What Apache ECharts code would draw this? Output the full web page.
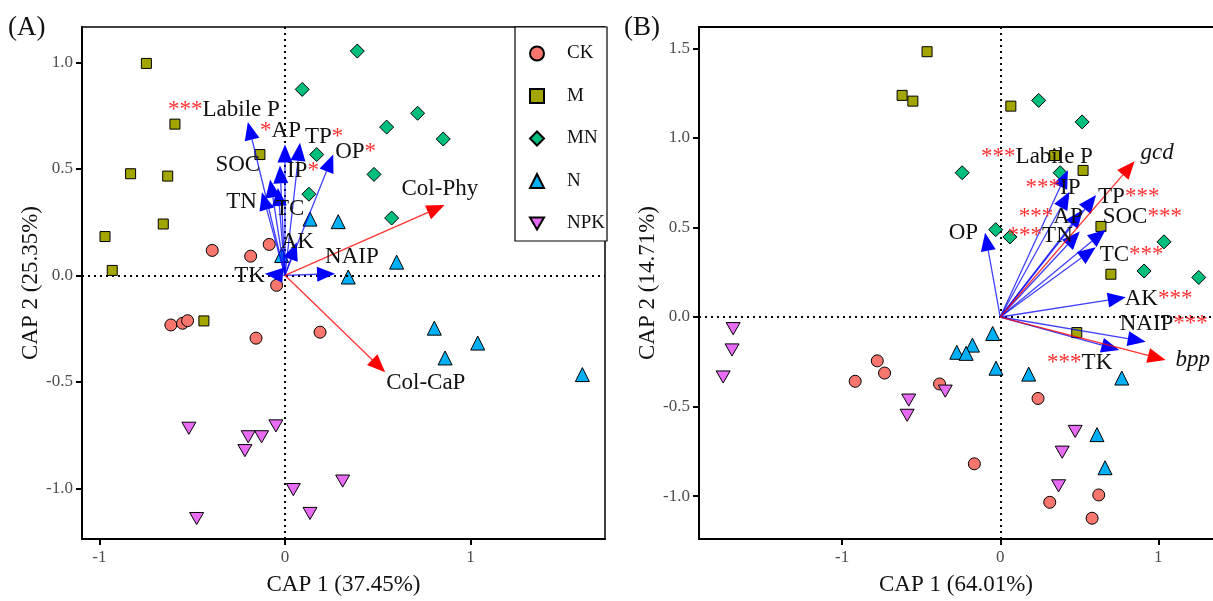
<!DOCTYPE html>
<html>
<head>
<meta charset="utf-8">
<script src="https://cdn.jsdelivr.net/npm/echarts@6/dist/echarts.min.js"></script>
<style>
  html, body { margin: 0; padding: 0; background: #fff; }
  #chart { width: 1213px; height: 601px; }
</style>
</head>
<body>
<div id="chart"></div>
<script>
// ---- sample scores, panel A ----
const ckA = [[-0.392, 0.117], [-0.185, 0.090], [-0.085, 0.145], [-0.045, -0.047], [-0.615, -0.233], [-0.552, -0.225], [-0.525, -0.213], [-0.156, -0.295], [0.189, -0.267]];
const mA = [[-0.747, 0.995], [-0.593, 0.71], [-0.135, 0.567], [-0.832, 0.477], [-0.632, 0.466], [-0.656, 0.241], [-0.970, 0.182], [-0.931, 0.023], [-0.437, -0.214]];
const mnA = [[0.390, 1.053], [0.093, 0.873], [0.715, 0.761], [0.548, 0.696], [0.853, 0.640], [0.171, 0.567], [0.480, 0.474], [0.129, 0.381], [0.575, 0.269]];
const nA = [[0.135, 0.264], [0.287, 0.252], [0.602, 0.062], [0.341, -0.008], [-0.018, 0.093], [0.805, -0.248], [1.039, -0.318], [0.863, -0.388], [1.603, -0.466]];
const npkA = [[-0.518, -0.718], [-0.198, -0.758], [-0.126, -0.758], [-0.216, -0.823], [-0.049, -0.707], [0.045, -1.006], [-0.476, -1.142], [0.311, -0.966], [0.135, -1.118]];

// ---- sample scores, panel B ----
const ckB = [[-0.918, -0.359], [-0.778, -0.245], [-0.732, -0.313], [-0.384, -0.374], [0.239, -0.455], [-0.164, -0.82], [0.623, -0.994], [0.313, -1.035], [0.581, -1.124]];
const mB = [[-0.463, 1.482], [-0.621, 1.238], [-0.553, 1.206], [0.067, 1.178], [0.344, 0.902], [0.524, 0.819], [0.637, 0.506], [0.70, 0.239], [0.484, -0.087]];
const mnB = [[0.243, 1.21], [0.518, 1.09], [-0.241, 0.806], [0.379, 0.806], [-0.029, 0.488], [0.061, 0.447], [1.036, 0.42], [0.91, 0.257], [1.256, 0.221]];
const nB = [[-0.048, -0.092], [-0.176, -0.157], [-0.275, -0.197], [-0.216, -0.203], [-0.027, -0.286], [0.180, -0.319], [0.769, -0.341], [0.612, -0.657], [0.663, -0.842]];
const npkB = [[-1.69, -0.065], [-1.697, -0.184], [-1.753, -0.335], [-0.348, -0.414], [-0.579, -0.464], [-0.589, -0.549], [0.474, -0.639], [0.392, -0.755], [0.369, -0.943]];

// ---- biplot vectors ----
const envNamesA = ['Labile P', 'AP', 'TP', 'OP', 'IP', 'SOC', 'TN', 'TC', 'AK', 'NAIP', 'TK'];
const envXA = [-0.20, 0.0, 0.081, 0.26, -0.027, -0.08, -0.124, -0.038, 0.063, 0.27, -0.108];
const envYA = [0.72, 0.614, 0.622, 0.567, 0.516, 0.45, 0.39, 0.41, 0.155, 0.008, 0.008];
const envSigA = ['***', '*', '*', '*', '*', '', '', '', '', '', ''];
const colNamesA = ['Col-Phy', 'Col-CaP'];
const colXA = [0.86, 0.54];
const colYA = [0.33, -0.455];

const envNamesB = ['Labile P', 'IP', 'TP', 'AP', 'SOC', 'TN', 'TC', 'OP', 'AK', 'NAIP', 'TK'];
const envXB = [0.428, 0.438, 0.606, 0.522, 0.667, 0.503, 0.604, -0.096, 0.794, 0.92, 0.753];
const envYB = [0.82, 0.70, 0.681, 0.598, 0.488, 0.477, 0.389, 0.47, 0.11, -0.138, -0.184];
const envSigB = ['***', '***', '***', '***', '***', '***', '***', '', '***', '***', '***'];
const enzNamesB = ['gcd', 'bpp'];
const enzXB = [0.85, 1.046];
const enzYB = [0.87, -0.24];

const groups = ['CK', 'M', 'MN', 'N', 'NPK'];
const yTicks = [-1.0, -0.5, 0.0, 0.5, 1.0];
const yTicksB = [-1.0, -0.5, 0.0, 0.5, 1.0, 1.5];
const xTicks = [-1, 0, 1];

// label placement relative to arrow tip (pixels): [dx, dy, align]
const labelPosA = {
  'Labile P': [32, -12, 'right'], 'AP': [16, -14, 'right'], 'TP': [5, -6, 'left'],
  'OP': [2, -3, 'left'], 'IP': [7, 6, 'left'], 'SOC': [-10, -15, 'right'],
  'TN': [-5, 10, 'right'], 'TC': [-3, 21, 'left'], 'AK': [-16, 0, 'left'],
  'NAIP': [-10, -17, 'left'], 'TK': [0, 2, 'right'],
  'Col-Phy': [-43, -16, 'left'], 'Col-CaP': [1, 11, 'left']
};
const labelPosB = {
  'Labile P': [25, -13, 'right'], 'IP': [11, -4, 'right'], 'TP': [2, 2, 'left'],
  'AP': [0, 7, 'right'], 'SOC': [-3, -13, 'left'], 'TN': [-7, 4, 'right'],
  'TC': [4, 8, 'left'], 'OP': [-7, 0, 'right'], 'AK': [-1, 2, 'left'],
  'NAIP': [-26, -18, 'left'], 'TK': [-7, 13, 'right'],
  'gcd': [6, -8, 'left'], 'bpp': [10, 0, 'left']
};

const colors = ['#F8766D', '#A3A500', '#00BF7D', '#00B0F6', '#E76BF3'];
const symbols = ['circle', 'rect', 'diamond', 'triangle', 'path://M0,0L10,0L5,8.66Z'];
const sizes = [12, 10, 14, 14, 14];
const serif = '"Liberation Serif", "DejaVu Serif", serif';

const chart = echarts.init(document.getElementById('chart'));

function arrowSeries(gi, names, xs, ys, color, lineColor) {
  return {
    type: 'custom',
    xAxisIndex: gi, yAxisIndex: gi,
    z: 5,
    silent: true,
    data: names.map((n, i) => [xs[i], ys[i], i]),
    renderItem: (params, api) => {
      const p0 = api.coord([0, 0]);
      const p1 = api.coord([api.value(0), api.value(1)]);
      const dx = p1[0] - p0[0], dy = p1[1] - p0[1];
      const len = Math.sqrt(dx * dx + dy * dy) || 1;
      const ux = dx / len, uy = dy / len;
      const L = 18, W = 7.5;
      const bx = p1[0] - ux * L, by = p1[1] - uy * L;
      return {
        type: 'group',
        children: [
          { type: 'line', shape: { x1: p0[0], y1: p0[1], x2: bx, y2: by },
            style: { stroke: lineColor, lineWidth: 1.3 } },
          { type: 'polygon',
            shape: { points: [[p1[0], p1[1]], [bx - uy * W, by + ux * W], [bx + uy * W, by - ux * W]] },
            style: { fill: color } }
        ]
      };
    }
  };
}

function labelSeries(gi, names, xs, ys, sigs, pos, italic) {
  return {
    type: 'custom',
    xAxisIndex: gi, yAxisIndex: gi,
    z: 10,
    silent: true,
    data: names.map((n, i) => [xs[i], ys[i], i]),
    renderItem: (params, api) => {
      const i = params.dataIndex;
      const name = names[i];
      const sig = sigs ? sigs[i] : '';
      const p = pos[name];
      const tip = api.coord([api.value(0), api.value(1)]);
      let text = name;
      if (sig) text = p[2] === 'right' ? '{s|' + sig + '}' + name : name + '{s|' + sig + '}';
      return {
        type: 'text',
        x: tip[0] + p[0], y: tip[1] + p[1],
        style: {
          text: text,
          align: p[2], verticalAlign: 'middle',
          fontFamily: serif, fontSize: 23,
          fontStyle: italic ? 'italic' : 'normal',
          fill: '#111',
          rich: { s: { fill: '#ff3030', fontFamily: serif, fontSize: 23 } }
        }
      };
    }
  };
}

function pointSeries(gi, data, k) {
  return {
    name: groups[k],
    type: 'scatter',
    xAxisIndex: gi, yAxisIndex: gi,
    z: 3,
    symbol: symbols[k],
    symbolSize: sizes[k],
    symbolKeepAspect: true,
    itemStyle: { color: colors[k], borderColor: '#000', borderWidth: 1, opacity: 1 },
    data: data
  };
}

function zeroLines(gi) {
  return {
    type: 'scatter', xAxisIndex: gi, yAxisIndex: gi, data: [], z: 2,
    markLine: {
      silent: true, symbol: 'none', label: { show: false },
      lineStyle: { color: '#000', type: [2, 4], width: 2 },
      data: [{ xAxis: 0 }, { yAxis: 0 }]
    }
  };
}

function xAxis(gi, min, max, name) {
  return {
    gridIndex: gi, type: 'value', min: min, max: max,
    name: name, nameLocation: 'middle', nameGap: 34,
    nameTextStyle: { fontFamily: serif, fontSize: 23, color: '#111' },
    splitLine: { show: false },
    axisLine: { onZero: false, lineStyle: { color: '#000', width: 2 } },
    axisTick: { customValues: xTicks, length: 6, lineStyle: { color: '#000', width: 2 } },
    axisLabel: { customValues: xTicks, margin: 10, fontFamily: serif, fontSize: 17, color: '#4d4d4d',
      formatter: v => String(Math.round(v)) }
  };
}

function yAxis(gi, min, max, name, ticks) {
  return {
    gridIndex: gi, type: 'value', min: min, max: max,
    name: name, nameLocation: 'middle', nameGap: 36,
    nameTextStyle: { fontFamily: serif, fontSize: 23, color: '#111' },
    splitLine: { show: false },
    axisLine: { onZero: false, lineStyle: { color: '#000', width: 2 } },
    axisTick: { customValues: ticks, length: 6, lineStyle: { color: '#000', width: 2 } },
    axisLabel: { customValues: ticks, margin: 9, fontFamily: serif, fontSize: 17, color: '#4d4d4d',
      formatter: v => v.toFixed(1) }
  };
}

// top frame line of panel B (its right edge runs off the page)
const topFrameB = {
  gridIndex: 1, type: 'value', position: 'top', min: -1.906, max: 1.346,
  axisLine: { onZero: false, lineStyle: { color: '#000', width: 2 } },
  axisTick: { show: false }, axisLabel: { show: false }, splitLine: { show: false }
};

const option = {
  backgroundColor: '#fff',
  animation: false,
  graphic: [
    { type: 'text', left: 8, top: 14, style: { text: '(A)', fontFamily: serif, fontSize: 27, fill: '#111' } },
    { type: 'text', left: 624, top: 14, style: { text: '(B)', fontFamily: serif, fontSize: 27, fill: '#111' } }
  ],
  legend: {
    data: groups,
    orient: 'vertical',
    left: 515, top: 27,
    padding: [17, 2, 8, 14],
    itemWidth: 14, itemHeight: 14, itemGap: 23.5,
    borderColor: '#000', borderWidth: 1.2, borderRadius: 0,
    backgroundColor: '#fff',
    textStyle: { fontFamily: serif, fontSize: 19, color: '#111', padding: [0, 0, 0, 18] }
  },
  grid: [
    { left: 82, top: 27, width: 523, height: 516, show: true, borderColor: '#000', borderWidth: 1.5, backgroundColor: 'transparent' },
    { left: 699, top: 27, width: 517, height: 518, show: false }
  ],
  xAxis: [
    xAxis(0, -1.094, 1.725, 'CAP 1 (37.45%)'),
    xAxis(1, -1.906, 1.346, 'CAP 1 (64.01%)'),
    topFrameB
  ],
  yAxis: [
    yAxis(0, -1.238, 1.166, 'CAP 2 (25.35%)', yTicks),
    yAxis(1, -1.24, 1.62, 'CAP 2 (14.71%)', yTicksB)
  ],
  series: [
    zeroLines(0), zeroLines(1),
    pointSeries(0, ckA, 0), pointSeries(0, mA, 1), pointSeries(0, mnA, 2), pointSeries(0, nA, 3), pointSeries(0, npkA, 4),
    pointSeries(1, ckB, 0), pointSeries(1, mB, 1), pointSeries(1, mnB, 2), pointSeries(1, nB, 3), pointSeries(1, npkB, 4),
    arrowSeries(0, envNamesA, envXA, envYA, '#0000ff', 'rgba(0,0,255,0.75)'),
    arrowSeries(0, colNamesA, colXA, colYA, '#ff0000', 'rgba(255,0,0,0.8)'),
    arrowSeries(1, envNamesB, envXB, envYB, '#0000ff', 'rgba(0,0,255,0.75)'),
    arrowSeries(1, enzNamesB, enzXB, enzYB, '#ff0000', 'rgba(255,0,0,0.8)'),
    labelSeries(0, envNamesA, envXA, envYA, envSigA, labelPosA, false),
    labelSeries(0, colNamesA, colXA, colYA, null, labelPosA, false),
    labelSeries(1, envNamesB, envXB, envYB, envSigB, labelPosB, false),
    labelSeries(1, enzNamesB, enzXB, enzYB, null, labelPosB, true)
  ]
};

chart.setOption(option);
</script>
</body>
</html>
